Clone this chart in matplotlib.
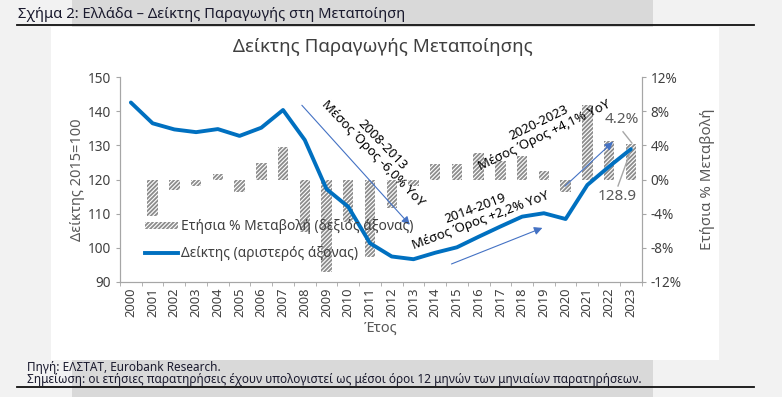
import matplotlib.pyplot as plt
import matplotlib.patches as mpatches
from matplotlib.lines import Line2D
import numpy as np

plt.rcParams['font.family'] = ['Noto Sans', 'DejaVu Sans']
plt.rcParams['hatch.linewidth'] = 1.3

# δεδομένα
years = [str(y) for y in range(2000, 2024)]
index_vals = [142.6, 136.5, 134.7, 133.9, 134.8, 132.8, 135.2, 140.4, 131.6, 117.2,
              112.0, 101.3, 97.4, 96.6, 98.5, 100.1, 103.2, 106.2, 109.1, 110.1,
              108.4, 118.4, 123.8, 128.9]
yoy_pct = [0.0, -4.3, -1.2, -0.8, 0.7, -1.5, 1.9, 3.8, -6.2, -10.9,
           -5.0, -9.1, -3.4, -0.8, 1.8, 1.8, 3.1, 2.2, 2.8, 1.0,
           -1.5, 8.8, 4.5, 4.2]
left_ticks = [90, 100, 110, 120, 130, 140, 150]
right_ticks = [-12, -8, -4, 0, 4, 8, 12]

W, H = 782, 397
fig = plt.figure(figsize=(W / 100, H / 100), dpi=100, facecolor='#f2f2f2')

def px_rect(x0, y0, x1, y1, color):
    fig.patches.append(mpatches.Rectangle((x0 / W, 1 - y1 / H), (x1 - x0) / W, (y1 - y0) / H,
                                          transform=fig.transFigure, facecolor=color,
                                          edgecolor='none', zorder=-5))

px_rect(72, 0, 653, H, '#d9d9d9')
px_rect(51, 27, 719, 360, 'white')
fig.add_artist(Line2D([17 / W, 754 / W], [1 - 25 / H, 1 - 25 / H], color='#111111', lw=1.3,
                      transform=fig.transFigure))
fig.add_artist(Line2D([17 / W, 754 / W], [1 - 387 / H, 1 - 387 / H], color='#111111', lw=1.3,
                      transform=fig.transFigure))

fig.text(18 / W, 1 - 14 / H, 'Σχήμα 2: Ελλάδα – Δείκτης Παραγωγής στη Μεταποίηση',
         fontsize=10.6, color='#1a1a2e', va='center')
fig.text(27 / W, 1 - 367 / H, 'Πηγή: ΕΛΣΤΑΤ, Eurobank Research.', fontsize=8.5,
         color='#1a1a2e', va='center')
fig.text(27 / W, 1 - 379.5 / H,
         'Σημείωση: οι ετήσιες παρατηρήσεις έχουν υπολογιστεί ως μέσοι όροι 12 μηνών των μηνιαίων παρατηρήσεων.',
         fontsize=8.5, color='#1a1a2e', va='center')
fig.text(383 / W, 1 - 47 / H, 'Δείκτης Παραγωγής Μεταποίησης', fontsize=13.5,
         color='#404040', ha='center', va='center')

ax = fig.add_axes([120 / W, 1 - 281.7 / H, (641.7 - 120) / W, (281.7 - 77.3) / H])
ax2 = ax.twinx()
x = np.arange(len(years))

ax2.bar(x, yoy_pct, width=0.48, facecolor='white', edgecolor='#8c8c8c', lw=0,
        hatch='////////', zorder=2)
ax2.set_ylim(-12, 12)
ax2.set_yticks(right_ticks)
ax2.set_yticklabels([f'{t}%' for t in right_ticks])
ax2.set_ylabel('Ετήσια % Μεταβολή', fontsize=10.8, color='#595959')
ax2.yaxis.set_label_coords((700 - 120) / (641.7 - 120), 0.5)

ax.set_zorder(ax2.get_zorder() + 1)
ax.patch.set_visible(False)
ax.plot(x, index_vals, color='#0070c0', lw=2.8, solid_capstyle='round', zorder=3)
ax.set_ylim(90, 150)
ax.set_yticks(left_ticks)
ax.set_xlim(-0.5, len(years) - 0.5)
ax.set_xticks(x)
ax.set_xticklabels(years, rotation=90)
ax.set_xticks(np.arange(-0.5, len(years), 1), minor=True)
ax.tick_params(axis='x', which='major', length=0, pad=4)
ax.tick_params(axis='x', which='minor', length=3, color='#a6a6a6')
ax.set_ylabel('Δείκτης 2015=100', fontsize=10.5, color='#595959')
ax.yaxis.set_label_coords((85 - 120) / (641.7 - 120), 0.5)
ax.set_xlabel('Έτος', fontsize=10.5, color='#595959', labelpad=3)

for a in (ax, ax2):
    for s in a.spines.values():
        s.set_color('#a6a6a6')
    a.spines['top'].set_visible(False)
    a.tick_params(axis='y', length=3, color='#a6a6a6', labelsize=9.8, labelcolor='#404040')
    a.tick_params(axis='x', labelsize=9.3, labelcolor='#404040')

# βέλη και σχόλια
arrow = dict(arrowstyle='-|>', color='#4472c4', lw=0.8, mutation_scale=12)
ax.annotate('', xy=(12.92, 106.1), xytext=(7.78, 142.4), arrowprops=arrow)
ax.annotate('', xy=(19.05, 106.1), xytext=(14.63, 94.9), arrowprops=arrow)
ax.annotate('', xy=(22.27, 131.6), xytext=(19.88, 117.5), arrowprops=arrow)

ax.text(11.37, 128.9, '2008-2013\nΜέσος Όρος -6,0% YoY', rotation=-46, fontsize=9.5,
        ha='center', va='center', rotation_mode='anchor', linespacing=1.0, color='black')
ax.text(15.97, 109.6, '2014-2019\nΜέσος Όρος +2,2% YoY', rotation=20.5, fontsize=9.5,
        ha='center', va='center', rotation_mode='anchor', linespacing=1.0, color='black')
ax.text(18.91, 134.8, '2020-2023\nΜέσος Όρος +4,1% YoY', rotation=26, fontsize=9.5,
        ha='center', va='center', rotation_mode='anchor', linespacing=1.0, color='black')

ax.text(22.59, 137.5, f'{yoy_pct[-1]:.1f}%', fontsize=11, color='#595959',
        ha='center', va='center')
ax.plot([22.64, 23.05], [134.0, 130.7], color='#a6a6a6', lw=1)
ax.text(22.36, 114.9, f'{index_vals[-1]:.1f}', fontsize=11, color='#595959',
        ha='center', va='center')
ax.plot([22.41, 22.96], [118.1, 127.8], color='#a6a6a6', lw=1)

handles = [mpatches.Patch(facecolor='white', edgecolor='#8c8c8c', lw=0, hatch='////////'),
           Line2D([], [], color='#0070c0', lw=2.8)]
ax.legend(handles, ['Ετήσια % Μεταβολή (δεξιός άξονας)', 'Δείκτης (αριστερός άξονας)'],
          loc='lower left', bbox_to_anchor=(0.025, 0.04), frameon=False, fontsize=9.9,
          labelcolor='#404040', handlelength=2.4, handletextpad=0.2, labelspacing=0.85,
          handleheight=0.5)

fig.savefig('out.png', dpi=100, facecolor=fig.get_facecolor())
